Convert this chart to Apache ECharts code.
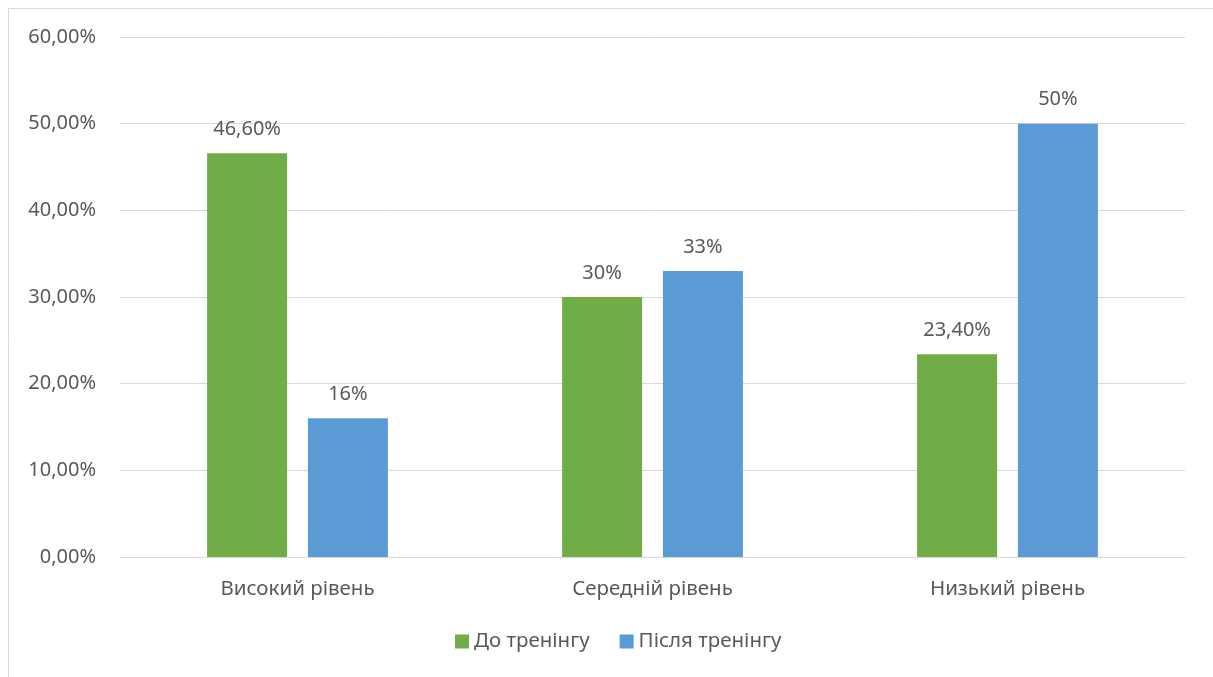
<!DOCTYPE html>
<html lang="uk">
<head>
<meta charset="UTF-8">
<title>Рівні до і після тренінгу</title>
<script src="https://cdn.jsdelivr.net/npm/echarts@6/dist/echarts.min.js"></script>
<style>
  html, body { margin: 0; padding: 0; background: #fff; }
  #main { width: 1213px; height: 677px; }
</style>
</head>
<body>
<div id="main"></div>
<script>
// дані
var categories = ['Високий рівень', 'Середній рівень', 'Низький рівень'];
var beforeValues = [46.6, 30, 23.4];
var afterValues = [16, 33, 50];
var beforeLabels = ['46,60%', '30%', '23,40%'];
var afterLabels = ['16%', '33%', '50%'];
var seriesNames = ['До тренінгу', 'Після тренінгу'];

var textColor = '#595959';
var font = '"Noto Sans", "DejaVu Sans", sans-serif';
var fs = 20;

var chart = echarts.init(document.getElementById('main'));
chart.setOption({
  animation: false,
  textStyle: { fontFamily: font },
  graphic: [{
    type: 'rect',
    shape: { x: 8.5, y: 8.5, width: 1400, height: 800 },
    style: { fill: 'none', stroke: '#d9d9d9', lineWidth: 1 },
    silent: true
  }],
  grid: { left: 120, right: 28, top: 37, bottom: 120 },
  legend: {
    bottom: 20,
    left: 450,
    itemWidth: 14,
    itemHeight: 14,
    itemGap: 30,
    icon: 'rect',
    textStyle: { color: textColor, fontSize: 20.5, fontFamily: font },
    data: seriesNames
  },
  xAxis: {
    type: 'category',
    data: categories,
    axisLine: { lineStyle: { color: '#d9d9d9', width: 1 } },
    axisTick: { show: false },
    axisLabel: { color: textColor, fontSize: 20.5, margin: 22, fontFamily: font }
  },
  yAxis: {
    type: 'value',
    min: 0,
    max: 60,
    interval: 10,
    axisLine: { show: false },
    axisTick: { show: false },
    splitLine: { lineStyle: { color: '#d9d9d9', width: 1 } },
    axisLabel: {
      color: textColor,
      fontSize: fs,
      margin: 24,
      fontFamily: font,
      formatter: function (v) { return v.toFixed(2).replace('.', ',') + '%'; }
    }
  },
  series: [{
    name: seriesNames[0],
    type: 'bar',
    data: beforeValues,
    barWidth: 80,
    barGap: '26%',
    itemStyle: { color: '#70ad47' },
    label: {
      show: true,
      position: 'top',
      distance: 14,
      color: textColor,
      fontSize: fs,
      fontFamily: font,
      formatter: function (p) { return beforeLabels[p.dataIndex]; }
    }
  }, {
    name: seriesNames[1],
    type: 'bar',
    data: afterValues,
    barWidth: 80,
    itemStyle: { color: '#5b9bd5' },
    label: {
      show: true,
      position: 'top',
      distance: 14,
      color: textColor,
      fontSize: fs,
      fontFamily: font,
      formatter: function (p) { return afterLabels[p.dataIndex]; }
    }
  }]
});
</script>
</body>
</html>
